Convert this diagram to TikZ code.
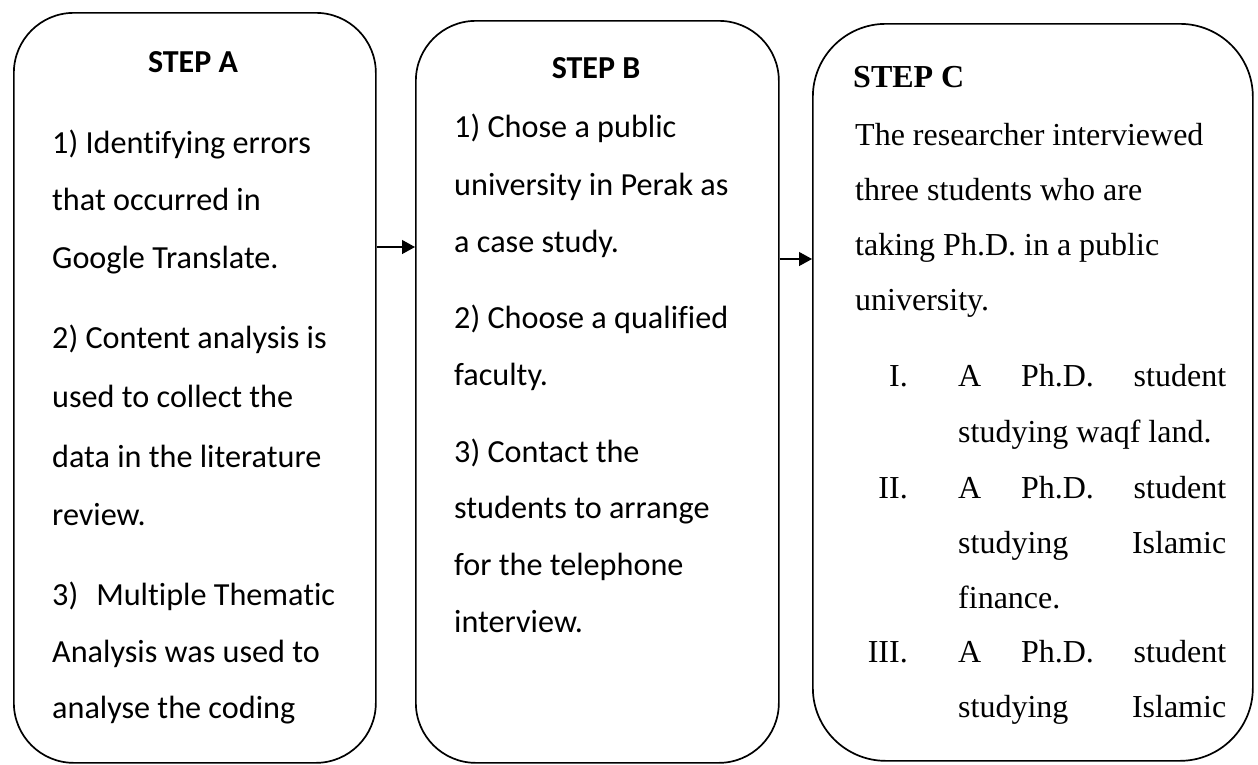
\documentclass[tikz,border=0pt]{standalone}
\usepackage{fontspec}
\setmainfont{Carlito}[Ligatures=NoCommon]
\newfontfamily\tnr{Liberation Serif}
\usetikzlibrary{arrows.meta}
\tikzset{
  stepbox/.style={draw=black, line width=1.7pt, rectangle, anchor=north west, inner sep=0pt},
  lineA/.style={anchor=base west, inner sep=0pt, font=\fontsize{32.2}{38}\selectfont, text=black},
  lineC/.style={anchor=base west, inner sep=0pt, font=\tnr\fontsize{32}{38}\selectfont, text=black},
  numC/.style={anchor=base east, inner sep=0pt, font=\tnr\fontsize{32}{38}\selectfont, text=black},
  titleA/.style={anchor=base, inner sep=0pt, font=\bfseries\fontsize{32}{38}\selectfont, text=black},
  titleC/.style={anchor=base west, inner sep=0pt, font=\tnr\bfseries\fontsize{32}{38}\selectfont, text=black},
  conn/.style={line width=1.2pt, -{Triangle[length=13pt,width=14pt]}}
}
\begin{document}
\begin{tikzpicture}[x=1pt,y=-1pt]
\useasboundingbox[fill=white] (0,0) rectangle (1258,764);
% boxes
\node[stepbox, rounded corners=60pt, minimum width=362pt, minimum height=750pt] (boxA) at (13,12) {};
\node[stepbox, rounded corners=60pt, minimum width=363pt, minimum height=742pt] (boxB) at (415,20) {};
\node[stepbox, rounded corners=73pt, minimum width=440pt, minimum height=737pt] (boxC) at (812,23) {};
% connectors
\coordinate (ab) at (0,247);
\coordinate (bc) at (0,259);
\draw[conn] (boxA.east |- ab) -- (boxB.west |- ab);
\draw[conn] (boxB.east |- bc) -- (boxC.west |- bc);
% Step A
\node[titleA] (tA) at (193,72) {STEP A};
\foreach \y/\t [count=\i] in {153/1) Identifying errors, 210/that occurred in, 268/Google Translate., 348/2) Content analysis is, 407/used to collect the, 467/data in the literature, 525/review., 605/3)\hspace*{18pt}Multiple Thematic, 662/Analysis was used to, 718/analyse the coding}
  \node[lineA] (a\i) at (52,\y) {\t};
% Step B
\node[titleA] (tB) at (596,78) {STEP B};
\foreach \y/\t [count=\i] in {137/1) Chose a public, 195/university in Perak as, 252/a case study., 328/2) Choose a qualified, 385/faculty., 462/3) Contact the, 518/students to arrange, 575/for the telephone, 632/interview.}
  \node[lineA] (b\i) at (454,\y) {\t};
% Step C
\node[titleC] (tC) at (853,87) {STEP C};
\foreach \y/\t [count=\i] in {145/The researcher interviewed, 200/three students who are, 255/taking Ph.D. in a public, 310/university.}
  \node[lineC] (c\i) at (855,\y) {\t};
\node[numC] (n1) at (908,386) {I.};
\node[numC] (n2) at (908,498) {II.};
\node[numC] (n3) at (908,662) {III.};
\node[lineC] (l1) at (958,386) {\makebox[268pt][s]{A\hfill Ph.D.\hfill student}};
\node[lineC] (l2) at (958,442) {studying waqf land.};
\node[lineC] (l3) at (958,498) {\makebox[268pt][s]{A\hfill Ph.D.\hfill student}};
\node[lineC] (l4) at (958,553) {\makebox[268pt][s]{studying\hfill Islamic}};
\node[lineC] (l5) at (958,608) {finance.};
\node[lineC] (l6) at (958,662) {\makebox[268pt][s]{A\hfill Ph.D.\hfill student}};
\node[lineC] (l7) at (958,717) {\makebox[268pt][s]{studying\hfill Islamic}};
\end{tikzpicture}
\end{document}
